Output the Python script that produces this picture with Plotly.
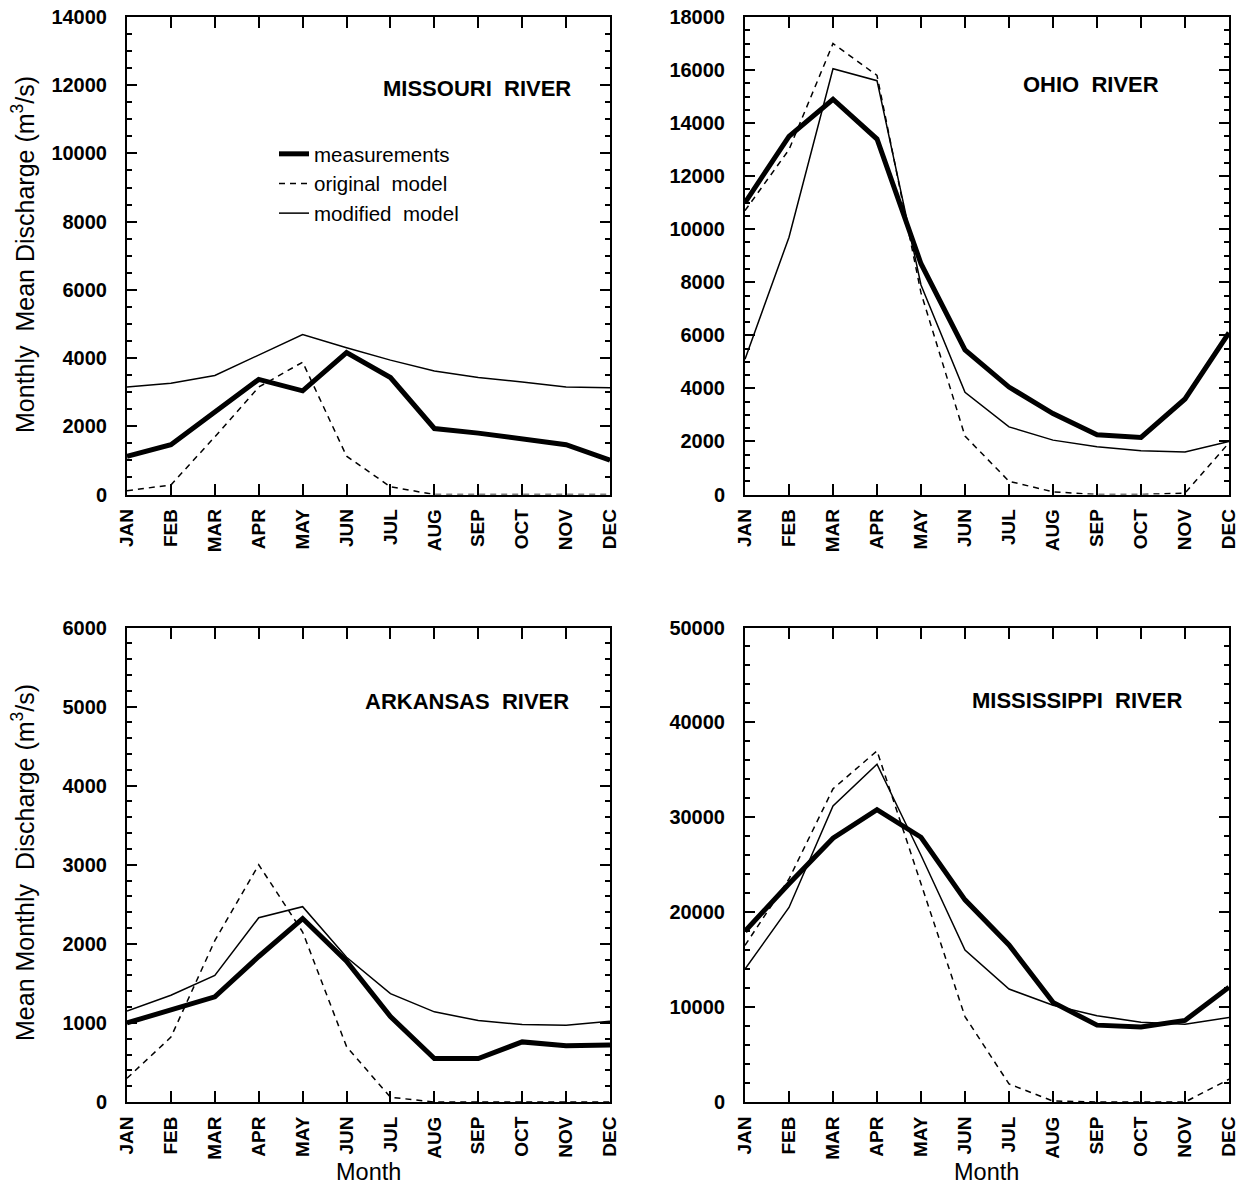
import plotly.graph_objects as go

months = ["JAN", "FEB", "MAR", "APR", "MAY", "JUN", "JUL", "AUG", "SEP", "OCT", "NOV", "DEC"]

# Missouri River
missouri_meas = [1120, 1460, 2420, 3375, 3040, 4160, 3430, 1935, 1800, 1630, 1460, 1010]
missouri_orig = [110, 280, 1690, 3150, 3880, 1125, 225, 0, 0, 0, 0, 0]
missouri_mod = [3150, 3260, 3490, 4100, 4690, 4300, 3940, 3620, 3430, 3300, 3150, 3130]

# Ohio River
ohio_meas = [11000, 13500, 14900, 13400, 8700, 5450, 4050, 3050, 2250, 2150, 3600, 6100]
ohio_orig = [10700, 13000, 17000, 15800, 7600, 2200, 500, 100, 0, 0, 50, 1950]
ohio_mod = [5100, 9700, 16050, 15600, 7900, 3850, 2550, 2050, 1800, 1650, 1600, 2000]

# Arkansas River
ark_meas = [1000, 1170, 1330, 1840, 2320, 1780, 1080, 550, 550, 760, 710, 720]
ark_orig = [300, 820, 2040, 3000, 2150, 700, 60, 0, 0, 0, 0, 0]
ark_mod = [1150, 1350, 1600, 2330, 2470, 1830, 1370, 1140, 1030, 980, 970, 1020]

# Mississippi River
miss_meas = [18000, 23000, 27800, 30800, 27900, 21300, 16550, 10500, 8100, 7900, 8600, 12100]
miss_orig = [16500, 23500, 33000, 37000, 23000, 9000, 1900, 100, 0, 0, 0, 2400]
miss_mod = [14000, 20500, 31200, 35600, 26000, 16000, 11900, 10200, 9100, 8400, 8200, 8900]

panels = [
    ("MISSOURI  RIVER", missouri_meas, missouri_orig, missouri_mod, 14000, 2000, 500),
    ("OHIO  RIVER", ohio_meas, ohio_orig, ohio_mod, 18000, 2000, 500),
    ("ARKANSAS  RIVER", ark_meas, ark_orig, ark_mod, 6000, 1000, 200),
    ("MISSISSIPPI  RIVER", miss_meas, miss_orig, miss_mod, 50000, 10000, 2000),
]

W, H = 1247, 1189
xdoms = [[127 / W, 610 / W], [745 / W, 1229 / W]]
ydoms = [[1 - 494.5 / H, 1 - 17 / H], [1 - 1102 / H, 1 - 627.5 / H]]

FONT = "Liberation Sans, Arial, sans-serif"

fig = go.Figure()

for i, (name, meas, orig, mod, ymax, dt, mdt) in enumerate(panels):
    r, c = divmod(i, 2)
    ax = "" if i == 0 else str(i + 1)
    xref, yref = "x" + ax, "y" + ax
    show = i == 0
    fig.add_trace(go.Scatter(x=months, y=meas, mode="lines", xaxis=xref, yaxis=yref,
                             line=dict(color="black", width=5), name="measurements",
                             showlegend=show, legendgroup="a", cliponaxis=False))
    fig.add_trace(go.Scatter(x=months, y=orig, mode="lines", xaxis=xref, yaxis=yref,
                             line=dict(color="black", width=1.5, dash="6px,5px"),
                             name="original  model", showlegend=show, legendgroup="b",
                             cliponaxis=False))
    fig.add_trace(go.Scatter(x=months, y=mod, mode="lines", xaxis=xref, yaxis=yref,
                             line=dict(color="black", width=1.5), name="modified  model",
                             showlegend=show, legendgroup="c", cliponaxis=False))

    xa = dict(domain=xdoms[c], anchor=yref, type="category", range=[0, 11],
              categoryorder="array", categoryarray=months,
              showline=True, linecolor="black", linewidth=2, mirror="ticks",
              ticks="inside", ticklen=11, tickwidth=2, tickcolor="black",
              tickangle=-90, tickfont=dict(family=FONT, size=19, color="black", weight="bold"),
              showgrid=False, zeroline=False, automargin=False, ticklabelstandoff=5)
    ya = dict(domain=ydoms[r], anchor=xref, range=[0, ymax], dtick=dt, tick0=0,
              showline=True, linecolor="black", linewidth=2, mirror="ticks",
              ticks="inside", ticklen=10, tickwidth=2, tickcolor="black",
              minor=dict(dtick=mdt, ticks="inside", ticklen=5, tickwidth=1.5, tickcolor="black"),
              tickfont=dict(family=FONT, size=20, color="black", weight="bold"),
              tickformat="d",
              showgrid=False, zeroline=False, automargin=False, ticklabelstandoff=14)
    fig.layout["xaxis" + ax] = xa
    fig.layout["yaxis" + ax] = ya

# River name labels
labels = [
    ("MISSOURI  RIVER", 573, 88),
    ("OHIO  RIVER", 1161, 85),
    ("ARKANSAS  RIVER", 571, 701),
    ("MISSISSIPPI  RIVER", 1184, 700),
]
for txt, xr, yc in labels:
    fig.add_annotation(text=txt, x=xr / W, y=1 - yc / H, xref="paper", yref="paper",
                       xanchor="right", yanchor="middle", showarrow=False,
                       font=dict(family=FONT, size=22, color="black", weight="bold"))

# Axis titles
fig.add_annotation(text="Monthly  Mean Discharge (m<sup>3</sup>/s)", x=23 / W, y=1 - 255 / H,
                   xref="paper", yref="paper", textangle=-90, showarrow=False,
                   xanchor="center", yanchor="middle",
                   font=dict(family=FONT, size=25, color="black"))
fig.add_annotation(text="Mean Monthly  Discharge (m<sup>3</sup>/s)", x=23 / W, y=1 - 863 / H,
                   xref="paper", yref="paper", textangle=-90, showarrow=False,
                   xanchor="center", yanchor="middle",
                   font=dict(family=FONT, size=25, color="black"))
for xc in [(127 + 610) / 2, (745 + 1229) / 2]:
    fig.add_annotation(text="Month", x=xc / W, y=1 - 1172 / H, xref="paper", yref="paper",
                       showarrow=False, xanchor="center", yanchor="middle",
                       font=dict(family=FONT, size=23.5, color="black"))

fig.update_layout(
    width=W, height=H, template="none",
    margin=dict(l=0, r=0, t=0, b=0),
    paper_bgcolor="white", plot_bgcolor="white",
    legend=dict(x=274 / W, y=1 - 134 / H, xanchor="left", yanchor="top",
                bgcolor="rgba(0,0,0,0)", borderwidth=0, traceorder="grouped",
                tracegroupgap=0, font=dict(family=FONT, size=20.5, color="black")),
)

fig.write_html("out.html", config={"displayModeBar": False},
               post_script="document.body.style.margin='0';document.body.style.overflow='hidden';")
